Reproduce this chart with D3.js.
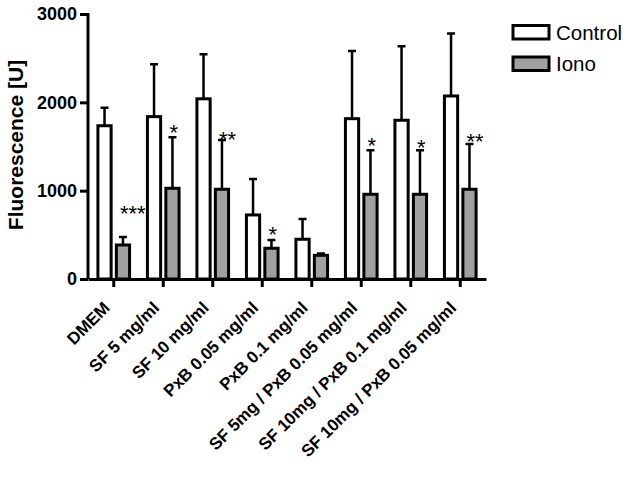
<!DOCTYPE html>
<html>
<head>
<meta charset="utf-8">
<script src="https://cdn.jsdelivr.net/npm/d3@7"></script>
<style>
  body { margin: 0; background: #fff; }
  svg { font-family: Arial, 'Liberation Sans', sans-serif; }
</style>
</head>
<body>
<div id="chart"></div>
<script>
// data
var categories = ['DMEM', 'SF 5 mg/ml', 'SF 10 mg/ml', 'PxB 0.05 mg/ml', 'PxB 0.1 mg/ml',
  'SF 5mg / PxB 0.05 mg/ml', 'SF 10mg / PxB 0.1 mg/ml', 'SF 10mg / PxB 0.05 mg/ml'];
var seriesNames = ['Control', 'Iono'];
var controlMean = [1735, 1838, 2040, 725, 450, 1815, 1797, 2072];
var controlErr = [205, 594, 505, 408, 230, 767, 838, 706];
var ionoMean = [385, 1027, 1016, 348, 268, 959, 959, 1016];
var ionoErr = [90, 578, 558, 94, 22, 498, 498, 513];
var stars = ['***', '*', '**', '*', '', '*', '*', '**'];
var starLevel = [793, 1710, 1630, 555, 0, 1563, 1540, 1608]; // height of star marks
var yTicks = [0, 1000, 2000, 3000];

var attrs = {
  svgWidth: 632,
  svgHeight: 485,
  marginLeft: 88,
  marginTop: 14,
  chartWidth: 398,
  chartHeight: 265,
  fills: ['#ffffff', '#a0a0a0'],
  font: 'Arial, Liberation Sans, sans-serif'
};

var svg = d3.select('#chart').append('svg')
  .attr('width', attrs.svgWidth)
  .attr('height', attrs.svgHeight);

var chart = svg.append('g')
  .attr('transform', 'translate(' + attrs.marginLeft + ',' + attrs.marginTop + ')');

var x0 = d3.scaleBand().domain(categories).range([0, attrs.chartWidth]).paddingInner(0.3).paddingOuter(0.17);
var x1 = d3.scaleBand().domain(seriesNames).range([0, x0.bandwidth()]).paddingInner(0.12);
var y = d3.scaleLinear().domain([0, 3000]).range([attrs.chartHeight, 0]);

var rows = categories.map(function(c, i) {
  return {
    cat: c,
    star: stars[i],
    starLevel: starLevel[i],
    vals: [
      { s: 'Control', v: controlMean[i], e: controlErr[i] },
      { s: 'Iono', v: ionoMean[i], e: ionoErr[i] }
    ]
  };
});

var groups = chart.selectAll('.grp').data(rows).enter().append('g')
  .attr('class', 'grp')
  .attr('transform', function(d) { return 'translate(' + x0(d.cat) + ',0)'; });

// error bars (upper only)
groups.selectAll('.err').data(function(d) { return d.vals; }).enter().append('path')
  .attr('class', 'err')
  .attr('stroke', '#000')
  .attr('stroke-width', 2.5)
  .attr('fill', 'none')
  .attr('d', function(d) {
    var cx = x1(d.s) + x1.bandwidth() / 2;
    return 'M' + cx + ',' + y(d.v) + 'V' + y(d.v + d.e) + 'M' + (cx - 4) + ',' + y(d.v + d.e) + 'H' + (cx + 4);
  });

groups.selectAll('.bar').data(function(d) { return d.vals; }).enter().append('rect')
  .attr('class', 'bar')
  .attr('x', function(d) { return x1(d.s) + 1.5; })
  .attr('width', x1.bandwidth() - 3)
  .attr('y', function(d) { return y(d.v); })
  .attr('height', function(d) { return attrs.chartHeight - y(d.v); })
  .attr('fill', function(d, i) { return attrs.fills[i]; })
  .attr('stroke', '#000')
  .attr('stroke-width', 3);

// significance stars
groups.append('text')
  .attr('x', function(d) { return x1('Iono') + x1.bandwidth() / 2 - 3; })
  .attr('y', function(d) { return y(d.starLevel) + 12; })
  .attr('font-size', 22)
  .attr('fill', '#000')
  .text(function(d) { return d.star; });

// axes
var yAxis = chart.append('g')
  .call(d3.axisLeft(y).tickValues(yTicks).tickSize(8).tickPadding(3).tickFormat(d3.format('d')));
yAxis.selectAll('path, line').attr('stroke', '#000').attr('stroke-width', 3);
yAxis.select('.domain').attr('d', 'M-8,0.5H0V' + attrs.chartHeight);
yAxis.selectAll('text').attr('font-size', 18).attr('font-weight', 'bold')
  .attr('font-family', attrs.font).attr('fill', '#000');

var xAxis = chart.append('g')
  .attr('transform', 'translate(0,' + attrs.chartHeight + ')')
  .call(d3.axisBottom(x0).tickSize(8).tickSizeOuter(0));
xAxis.selectAll('path, line').attr('stroke', '#000').attr('stroke-width', 3);
xAxis.selectAll('text')
  .attr('font-size', 17).attr('font-weight', 'bold')
  .attr('font-family', attrs.font).attr('fill', '#000')
  .attr('text-anchor', 'end')
  .attr('x', 0).attr('y', 0).attr('dy', null)
  .attr('transform', 'translate(-3,30) rotate(-45)');

// y label
svg.append('text')
  .attr('transform', 'translate(23,145) rotate(-90)')
  .attr('text-anchor', 'middle')
  .attr('font-size', 21)
  .attr('font-weight', 'bold')
  .attr('fill', '#000')
  .text('Fluorescence [U]');

// legend
var legend = svg.append('g').attr('transform', 'translate(513,25.5)');
var items = legend.selectAll('g').data(seriesNames).enter().append('g')
  .attr('transform', function(d, i) { return 'translate(0,' + i * 31.5 + ')'; });
items.append('rect')
  .attr('width', 36).attr('height', 13.5)
  .attr('fill', function(d, i) { return attrs.fills[i]; })
  .attr('stroke', '#000').attr('stroke-width', 3);
items.append('text')
  .attr('x', 43).attr('y', 14)
  .attr('font-size', 20.5)
  .attr('fill', '#000')
  .text(function(d) { return d; });
</script>
</body>
</html>
